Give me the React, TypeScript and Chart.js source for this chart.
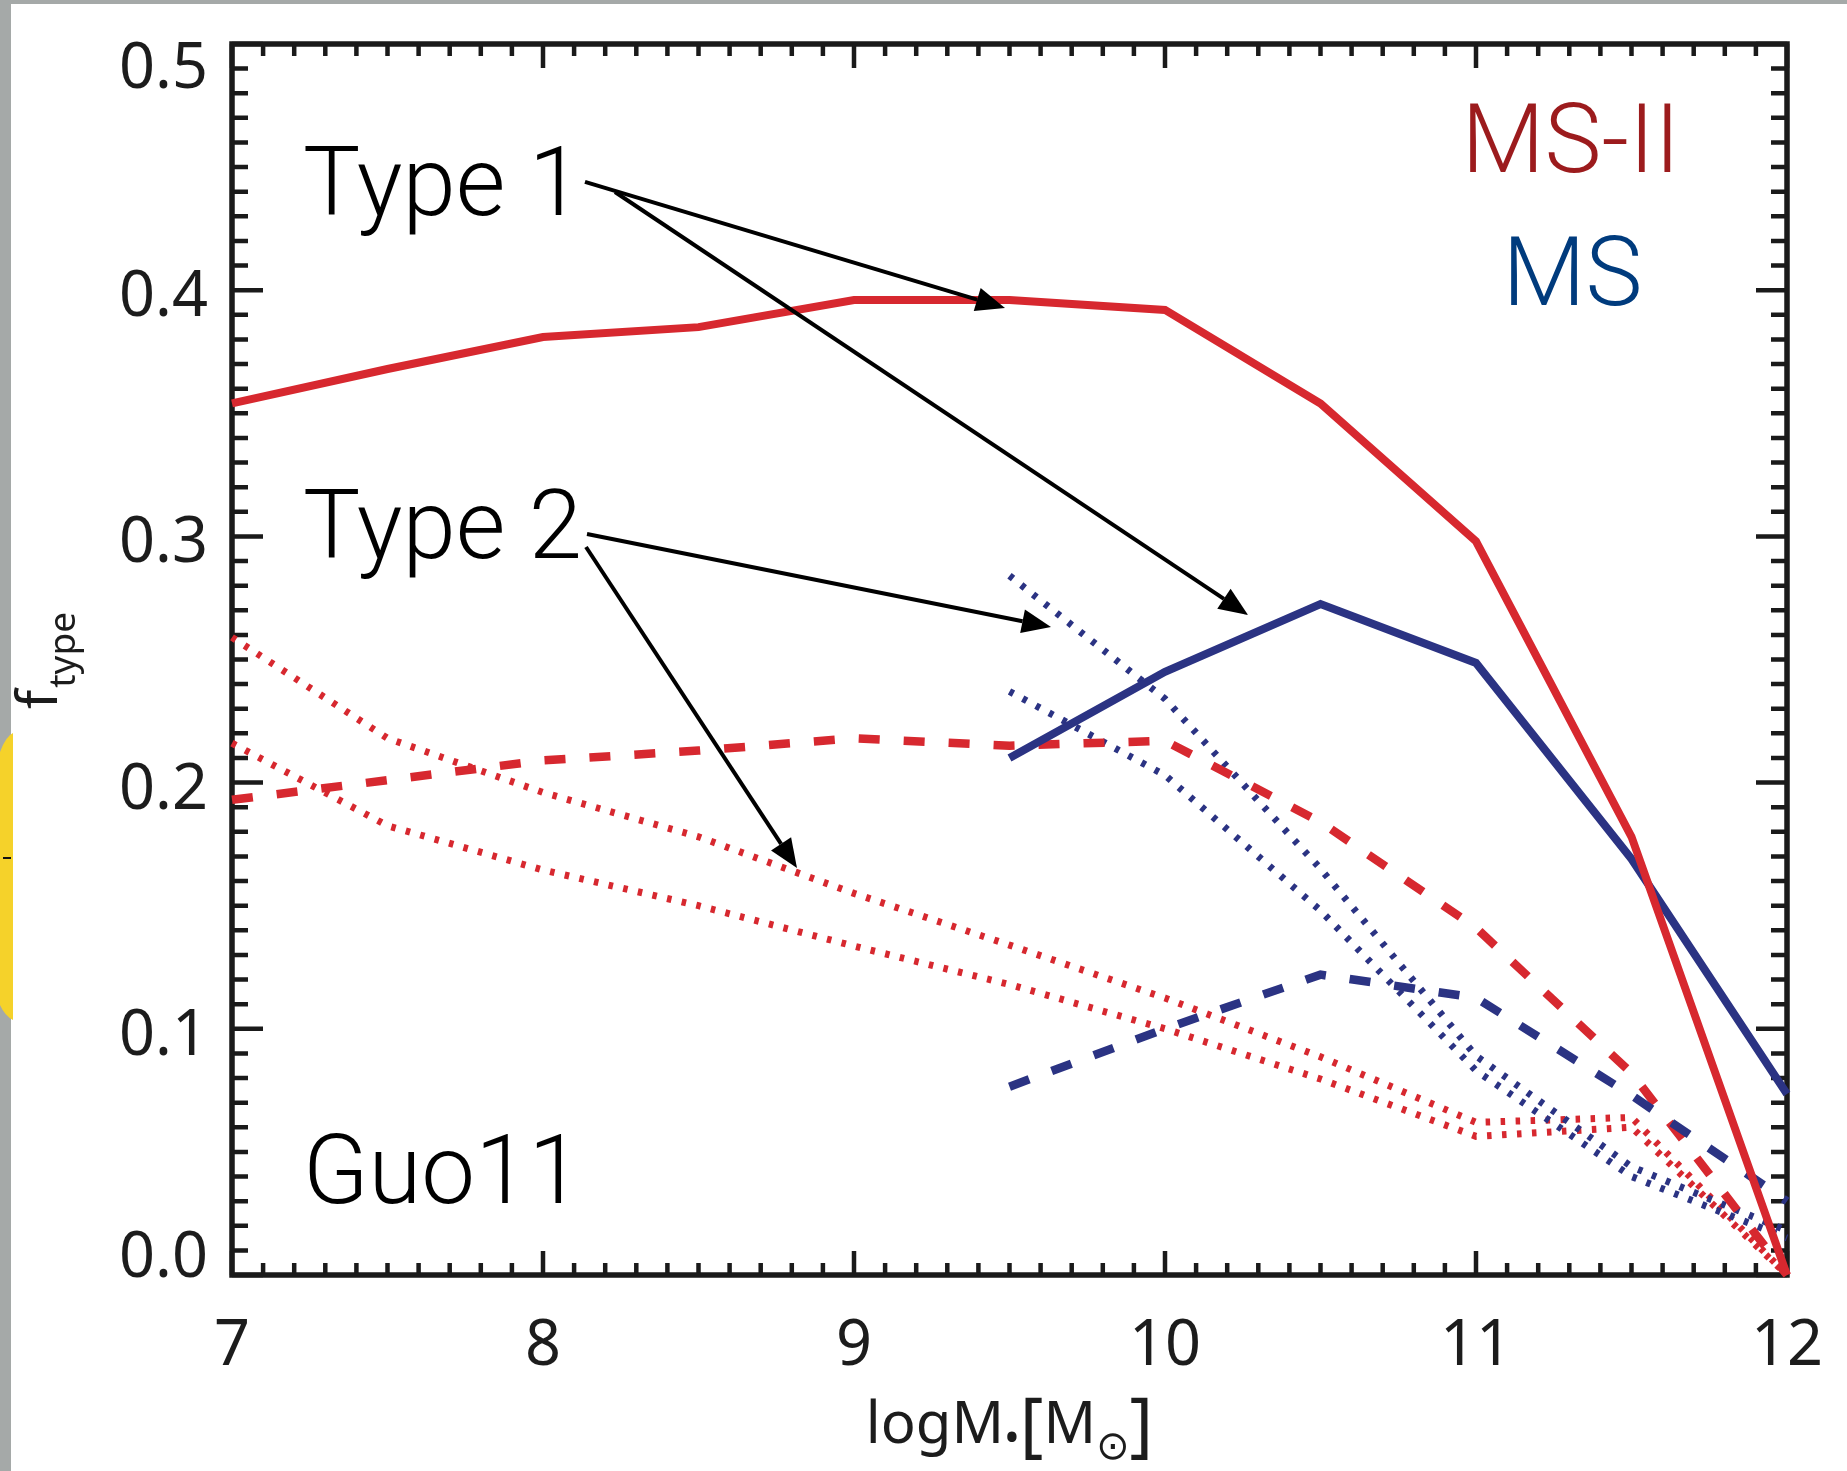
import React, { useEffect, useRef } from "react";
import { Chart, registerables } from "chart.js";

Chart.register(...registerables);

const W = 1847;
const H = 1471;

// ---- data ----
const xMSII = [7, 7.5, 8, 8.5, 9, 9.5, 10, 10.5, 11, 11.5, 12];
const msiiType1 = [0.354, 0.368, 0.381, 0.385, 0.396, 0.396, 0.392, 0.354, 0.298, 0.178, 0.0];
const msiiType2 = [0.193, 0.201, 0.209, 0.213, 0.218, 0.215, 0.217, 0.184, 0.141, 0.082, 0.0];
const msiiType2DotA = [0.259, 0.218, 0.196, 0.178, 0.155, 0.134, 0.1125, 0.0886, 0.062, 0.064, 0.0];
const msiiType2DotB = [0.216, 0.1825, 0.1645, 0.15, 0.1336, 0.118, 0.1, 0.0796, 0.0563, 0.06, 0.0];

const xMS = [9.5, 10, 10.5, 11, 11.5, 12];
const msType1 = [0.21, 0.245, 0.2725, 0.2486, 0.169, 0.0735];
const msType2 = [0.0765, 0.1, 0.122, 0.1126, 0.073, 0.03];
const msType2DotA = [0.284, 0.234, 0.165, 0.089, 0.044, 0.018];
const msType2DotB = [0.237, 0.203, 0.148, 0.083, 0.04, 0.015];

const xTickValues = [7, 8, 9, 10, 11, 12];
const xTickLabels = ["7", "8", "9", "10", "11", "12"];
const yTickValues = [0, 0.1, 0.2, 0.3, 0.4, 0.5];
const yTickLabels = ["0.0", "0.1", "0.2", "0.3", "0.4", "0.5"];

// annotation texts (data coords: x = left / centre, y = baseline)
const noteTexts = [
  { text: "Type 1", x: 7.228, y: 0.4305, align: "left", color: "#000000" },
  { text: "Type 2", x: 7.228, y: 0.2912, align: "left", color: "#000000" },
  { text: "Guo11", x: 7.228, y: 0.0292, align: "left", color: "#000000" },
  { text: "MS-II", x: 11.305, y: 0.448, align: "center", color: "#9c1b1d" },
  { text: "MS", x: 11.31, y: 0.394, align: "center", color: "#003b7d" },
];

// arrows (data coords)
const arrowFromX = [8.135, 8.2315, 8.1415, 8.1383];
const arrowFromY = [0.444, 0.4399, 0.301, 0.2957];
const arrowToX = [9.4855, 10.267, 9.6334, 8.8167];
const arrowToY = [0.3928, 0.2681, 0.2632, 0.1653];

const RED = "#d7282f";
const BLUE = "#2b3383";

const pts = (xs: number[], ys: number[]) => xs.map((x, i) => ({ x, y: ys[i] }));

const SANS = '"Noto Sans", "DejaVu Sans", sans-serif';
const LIGHT = '"Roboto", "Liberation Sans", sans-serif';

const decorPlugin = {
  id: "decor",
  beforeDraw(chart: any) {
    const ctx = chart.ctx;
    ctx.save();
    ctx.fillStyle = "#ffffff";
    ctx.fillRect(0, 0, W, H);
    ctx.fillStyle = "#a5a9a8";
    ctx.fillRect(0, 0, 11, H);
    ctx.fillRect(0, 0, W, 4);
    // yellow blob on the left border
    ctx.fillStyle = "#f5d22a";
    ctx.beginPath();
    ctx.moveTo(0, 752);
    ctx.quadraticCurveTo(6, 736, 13, 733);
    ctx.lineTo(13, 1020);
    ctx.quadraticCurveTo(5, 1016, 0, 1005);
    ctx.closePath();
    ctx.fill();
    ctx.fillStyle = "#111";
    ctx.fillRect(3, 857, 8, 2);
    ctx.restore();
  },
  beforeDatasetsDraw(chart: any) {
    const { ctx, chartArea: a, scales } = chart;
    const x = scales.x;
    const y = scales.y;
    ctx.save();
    ctx.strokeStyle = "#1a1a1a";
    ctx.lineCap = "butt";
    ctx.lineWidth = 4.5;
    ctx.beginPath();
    for (let i = 0; i <= 50; i++) {
      const px = x.getPixelForValue(7 + i * 0.1);
      const len = i % 10 === 0 ? 24 : 12;
      ctx.moveTo(px, a.bottom);
      ctx.lineTo(px, a.bottom - len);
      ctx.moveTo(px, a.top);
      ctx.lineTo(px, a.top + len);
    }
    for (let i = 0; i <= 50; i++) {
      const py = y.getPixelForValue(i * 0.01);
      const len = i % 10 === 0 ? 31 : 16;
      ctx.moveTo(a.left, py);
      ctx.lineTo(a.left + len, py);
      ctx.moveTo(a.right, py);
      ctx.lineTo(a.right - len, py);
    }
    ctx.stroke();
    ctx.lineWidth = 5.5;
    ctx.lineJoin = "miter";
    ctx.strokeRect(a.left, a.top, a.right - a.left, a.bottom - a.top);

    // tick labels
    ctx.fillStyle = "#1c1c1c";
    ctx.font = `63px ${SANS}`;
    ctx.textAlign = "center";
    ctx.textBaseline = "alphabetic";
    xTickValues.forEach((v, i) => {
      ctx.fillText(xTickLabels[i], x.getPixelForValue(v), a.bottom + 90);
    });
    ctx.textAlign = "right";
    yTickValues.forEach((v, i) => {
      const py = y.getPixelForValue(v);
      const base = Math.min(Math.max(py + 26, a.top + 44), a.bottom + 2);
      ctx.fillText(yTickLabels[i], a.left - 24, base);
    });

    // x title: logM•[M⊙]
    const cx = (a.left + a.right) / 2;
    const baseY = a.bottom + 168;
    const parts = [
      { t: "logM", f: `58px ${SANS}`, dy: 0 },
      { t: "•", f: `42px ${SANS}`, dy: 9 },
      { t: "[", f: `72px ${SANS}`, dy: 6 },
      { t: "M", f: `58px ${SANS}`, dy: 0 },
      { t: "⊙", f: `40px "DejaVu Sans", ${SANS}`, dy: 16 },
      { t: "]", f: `72px ${SANS}`, dy: 6 },
    ];
    let tw = 0;
    const ws = parts.map((p) => {
      ctx.font = p.f;
      const w = ctx.measureText(p.t).width;
      tw += w;
      return w;
    });
    let cur = cx - tw / 2;
    ctx.textAlign = "left";
    parts.forEach((p, i) => {
      ctx.font = p.f;
      ctx.fillText(p.t, cur, baseY + p.dy);
      cur += ws[i];
    });

    // y title: f_type rotated
    ctx.save();
    ctx.translate(57, (a.top + a.bottom) / 2 + 1);
    ctx.rotate(-Math.PI / 2);
    ctx.font = `56px ${SANS}`;
    const wf = ctx.measureText("f").width;
    ctx.font = `37px ${SANS}`;
    const wt = ctx.measureText("type").width;
    const st = -(wf + wt + 2) / 2;
    ctx.font = `56px ${SANS}`;
    ctx.fillText("f", st, 0);
    ctx.font = `37px ${SANS}`;
    ctx.fillText("type", st + wf + 2, 18);
    ctx.restore();

    ctx.restore();
  },
  afterDatasetsDraw(chart: any) {
    const { ctx, scales } = chart;
    const x = scales.x;
    const y = scales.y;
    ctx.save();
    // arrows
    ctx.strokeStyle = "#000";
    ctx.fillStyle = "#000";
    ctx.lineWidth = 4;
    arrowFromX.forEach((_, i) => {
      const x0 = x.getPixelForValue(arrowFromX[i]);
      const y0 = y.getPixelForValue(arrowFromY[i]);
      const x1 = x.getPixelForValue(arrowToX[i]);
      const y1 = y.getPixelForValue(arrowToY[i]);
      const ang = Math.atan2(y1 - y0, x1 - x0);
      const hl = 29;
      const hw = 12;
      const bx = x1 - hl * Math.cos(ang);
      const by = y1 - hl * Math.sin(ang);
      ctx.beginPath();
      ctx.moveTo(x0, y0);
      ctx.lineTo(bx, by);
      ctx.stroke();
      ctx.beginPath();
      ctx.moveTo(x1, y1);
      ctx.lineTo(bx + hw * Math.sin(ang), by - hw * Math.cos(ang));
      ctx.lineTo(bx - hw * Math.sin(ang), by + hw * Math.cos(ang));
      ctx.closePath();
      ctx.fill();
    });
    // texts
    ctx.font = `300 96px ${LIGHT}`;
    ctx.textBaseline = "alphabetic";
    noteTexts.forEach((n) => {
      ctx.fillStyle = n.color;
      ctx.textAlign = n.align as CanvasTextAlign;
      ctx.fillText(n.text, x.getPixelForValue(n.x), y.getPixelForValue(n.y));
    });
    ctx.restore();
  },
};

export default function App() {
  const ref = useRef<HTMLCanvasElement>(null);
  useEffect(() => {
    document.body.style.margin = "0";
    document.body.style.overflow = "hidden";
    const solid = { borderWidth: 8, pointRadius: 0, tension: 0, clip: false as any, fill: false };
    const dashed = { ...solid, borderWidth: 8.5, borderDash: [21, 24], borderCapStyle: "butt" };
    const dotted = { ...solid, borderWidth: 7, borderDash: [4.5, 10.5], borderCapStyle: "butt" };
    const chart = new Chart(ref.current!, {
      type: "line",
      data: {
        datasets: [
          { label: "MS-II Type 1", data: pts(xMSII, msiiType1), borderColor: RED, ...solid, order: 0 },
          { label: "MS Type 1", data: pts(xMS, msType1), borderColor: BLUE, ...solid, order: 1 },
          { label: "MS Type 2", data: pts(xMS, msType2), borderColor: BLUE, ...dashed, order: 2 },
          { label: "MS-II Type 2", data: pts(xMSII, msiiType2), borderColor: RED, ...dashed, order: 3 },
          { label: "MS Type 2 (a)", data: pts(xMS, msType2DotA), borderColor: BLUE, ...dotted, order: 4 },
          { label: "MS Type 2 (b)", data: pts(xMS, msType2DotB), borderColor: BLUE, ...dotted, order: 5 },
          { label: "MS-II Type 2 (a)", data: pts(xMSII, msiiType2DotA), borderColor: RED, ...dotted, order: 6 },
          { label: "MS-II Type 2 (b)", data: pts(xMSII, msiiType2DotB), borderColor: RED, ...dotted, order: 7 },
        ] as any,
      },
      options: {
        responsive: false,
        animation: false,
        devicePixelRatio: 1,
        layout: { padding: { left: 232, top: 44, right: W - 1787, bottom: H - 1275 } },
        plugins: { legend: { display: false }, tooltip: { enabled: false } },
        scales: {
          x: { type: "linear", min: 7, max: 12, display: false },
          y: { type: "linear", min: 0, max: 0.5, display: false },
        },
      },
      plugins: [decorPlugin],
    });
    return () => chart.destroy();
  }, []);
  return (
    <div style={{ width: W, height: H, position: "relative" }}>
      <canvas ref={ref} width={W} height={H} style={{ display: "block", width: W, height: H }} />
    </div>
  );
}
